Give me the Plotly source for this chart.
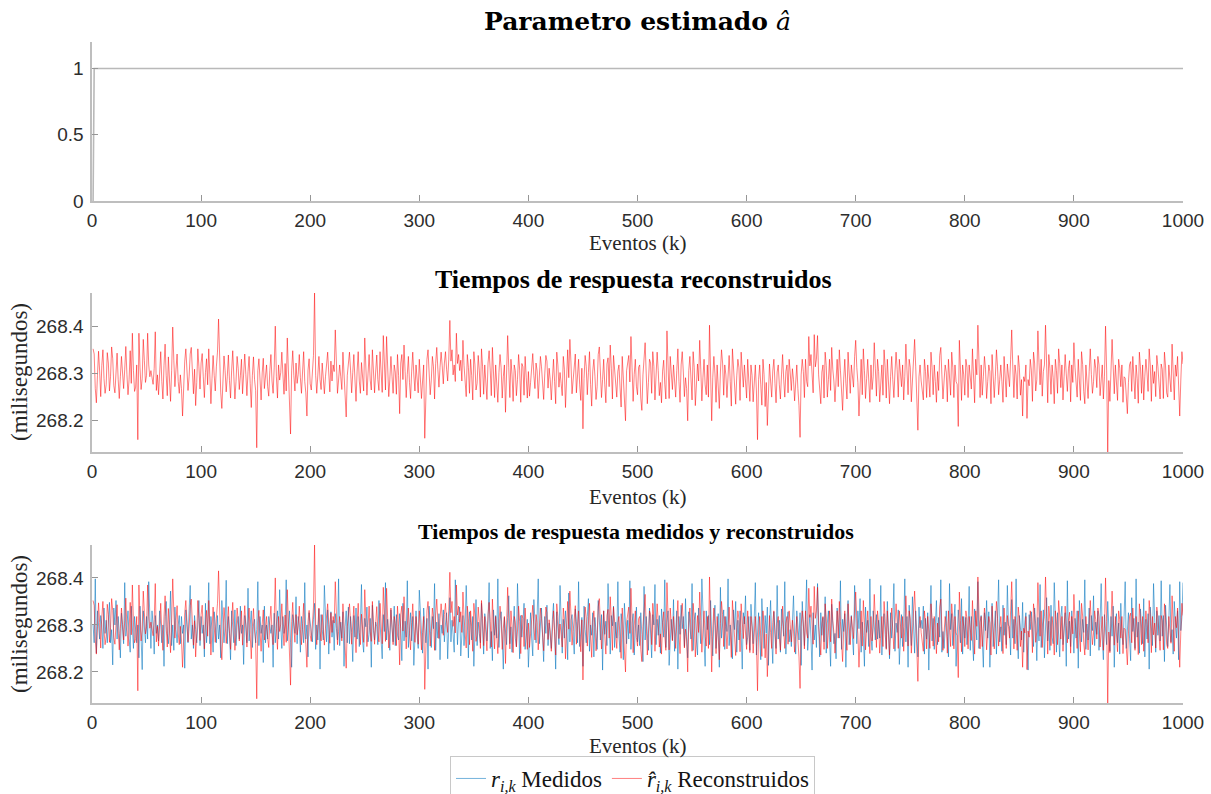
import plotly.graph_objects as go

# ---------------- data ----------------
# Top panel: estimated parameter a_hat (step from 0 to 1 at the first events)
eventos_a = [1, 2, 1000]
a_hat = [0, 1, 1]

# Response times, stored as thousandths of ms above 268.000 ms (k = 1..1000)
base_ms = 268.0

r_hat_milesimas = [  # reconstructed (red)
    352,341,268,238,296,347,305,251,317,350,289,258,276,344,322,263,294,356,331,274,
    259,314,343,287,247,293,336,301,268,309,357,298,255,287,348,279,385,306,262,271,
    318,160,385,312,266,289,372,327,281,296,385,318,293,306,289,277,311,388,264,297,
    255,308,346,283,246,317,362,296,253,335,284,241,306,398,327,272,309,341,283,258,
    297,268,210,284,326,352,309,264,293,341,355,286,257,309,232,281,352,314,267,322,
    342,293,249,302,331,276,352,297,236,289,338,296,263,314,345,415,297,259,226,308,
    337,306,261,293,339,285,248,307,348,294,246,283,336,311,266,295,330,257,303,341,
    298,253,304,336,279,228,296,335,287,264,143,306,331,277,244,301,332,268,297,318,
    272,252,306,340,284,258,312,400,293,248,318,286,302,345,297,256,321,263,375,304,
    261,172,307,348,296,263,322,279,298,340,291,258,303,346,283,259,210,307,331,278,
    265,303,338,470,296,258,313,336,287,266,322,297,257,293,332,345,301,261,326,284,
    318,304,392,297,258,286,318,293,266,345,297,271,208,296,330,345,307,259,302,340,
    288,241,305,346,284,258,323,296,263,375,304,254,299,340,286,265,350,297,259,303,
    339,287,264,346,307,260,380,297,265,378,302,251,288,336,294,258,318,303,256,340,
    296,215,322,340,287,360,304,249,298,336,281,247,305,345,297,263,318,294,259,330,
    292,247,284,318,163,277,330,350,311,255,286,336,314,246,321,355,309,271,313,345,
    316,278,322,346,309,284,330,412,326,350,297,318,283,385,321,340,306,328,284,370,
    317,279,251,340,313,258,330,296,244,346,318,265,279,338,307,250,352,314,256,318,
    287,245,322,348,307,253,355,314,249,318,284,239,302,340,312,248,293,318,218,297,
    380,313,249,330,297,241,318,306,253,287,340,307,239,321,314,254,336,292,248,304,
    252,281,318,342,296,268,322,305,247,289,336,314,271,245,299,338,326,269,311,287,
    244,305,330,283,236,345,318,271,302,279,253,336,309,228,312,350,291,372,324,257,
    286,320,341,259,294,330,276,243,311,183,289,338,315,255,302,346,277,231,305,330,
    294,245,272,340,356,307,249,287,330,276,238,320,333,272,360,311,246,338,302,268,
    250,305,318,271,229,336,289,258,200,306,330,338,282,378,313,241,298,330,273,255,
    313,318,248,222,297,340,365,299,236,281,330,322,258,346,315,244,291,345,306,253,
    281,238,305,328,277,246,390,312,247,336,292,266,318,271,250,306,352,283,239,318,
    346,303,251,291,268,200,306,336,289,244,346,313,232,277,320,284,370,309,242,292,
    330,276,255,318,250,402,318,200,291,336,299,239,318,281,226,303,350,322,254,318,
    297,249,314,338,283,231,352,305,258,235,295,330,312,243,345,308,271,318,283,248,
    330,287,241,318,296,240,271,318,263,160,287,318,276,233,330,298,230,281,190,264,
    320,284,250,305,330,279,238,303,318,276,246,297,340,288,250,304,318,259,330,301,
    264,310,287,242,279,318,268,232,165,297,330,304,249,330,283,272,378,316,340,291,
    259,382,314,330,380,297,254,236,303,318,248,345,317,250,287,330,264,355,309,284,
    240,294,330,272,350,307,249,222,288,330,279,246,345,311,258,318,283,271,336,370,
    313,281,210,287,330,255,352,306,247,289,330,284,239,318,266,293,365,311,252,330,
    304,240,287,318,254,350,313,248,330,283,236,294,336,287,249,303,345,308,250,330,
    287,272,318,244,294,362,307,255,330,313,240,277,318,372,314,258,180,293,318,284,
    267,244,330,304,249,318,287,250,345,313,255,318,283,239,304,264,338,355,297,246,
    284,318,303,240,330,289,254,345,313,249,318,283,277,188,370,309,243,318,297,254,
    330,313,249,318,283,267,352,304,238,330,297,402,314,249,318,254,293,336,309,247,
    283,318,304,236,340,297,249,293,350,314,255,287,318,283,239,336,304,250,320,297,
    272,330,392,314,249,318,297,246,338,313,254,287,210,293,283,318,205,287,274,330,
    307,241,345,322,263,287,390,323,276,330,252,304,318,402,296,238,340,311,256,318,
    291,236,330,306,258,352,321,270,318,244,293,340,299,262,310,327,240,318,281,365,
    313,274,250,330,296,243,346,319,262,236,318,289,247,304,352,298,258,283,330,311,
    270,336,318,253,287,318,246,293,400,307,134,285,241,330,372,316,257,318,279,243,
    330,311,272,318,239,293,290,258,215,281,318,325,262,336,301,246,318,289,237,345,
    314,258,318,244,294,330,301,262,352,318,241,318,279,304,251,338,314,265,246,320,
    309,247,345,316,259,250,318,288,261,362,311,244,318,294,336,270,210,286,346,320,
]

r_med_milesimas = [  # measured (blue)
    300,262,398,240,330,290,270,320,300,250,336,282,310,262,300,348,262,290,215,336,
    300,352,270,318,282,230,325,300,260,390,276,300,330,272,242,340,300,250,318,280,
    262,300,230,340,282,205,330,300,262,318,270,392,290,250,330,300,238,320,282,300,
    266,330,300,262,300,212,318,350,282,260,300,372,256,300,246,338,290,262,300,320,
    260,318,282,300,208,332,300,262,330,384,270,300,250,320,290,262,300,352,256,318,
    282,300,232,346,262,300,390,260,318,290,242,328,300,262,320,270,300,230,352,290,
    262,300,395,260,318,282,226,330,300,262,332,256,300,318,270,340,282,300,216,320,
    300,262,378,266,300,330,252,300,312,262,290,392,256,318,282,300,220,340,262,300,
    270,318,298,282,300,210,325,262,300,330,270,375,300,250,318,282,300,396,266,300,
    330,262,210,322,300,282,360,260,318,300,242,318,290,262,390,270,300,232,326,300,
    286,264,312,346,248,300,268,334,206,322,290,268,384,300,264,332,238,300,328,274,
    310,246,324,292,268,398,256,306,272,328,212,296,330,262,338,260,318,284,222,320,
    274,336,270,318,254,302,386,266,242,314,296,338,264,280,314,210,342,288,268,306,
    296,258,352,304,264,228,322,286,390,268,312,270,246,332,300,264,340,256,322,278,
    268,324,292,224,346,266,308,274,394,252,288,326,266,318,214,298,330,278,250,374,
    318,276,240,336,298,262,314,206,340,284,252,318,292,388,246,306,272,324,226,300,
    282,332,264,302,326,228,288,358,264,310,280,242,396,296,258,314,338,234,286,320,
    256,298,384,272,230,328,306,268,318,212,290,354,256,306,282,262,346,302,238,324,
    304,266,310,390,250,286,224,332,278,320,272,398,252,308,328,270,206,316,294,258,
    316,362,260,296,242,314,340,272,254,388,290,228,320,274,306,346,248,284,312,210,
    288,326,272,234,354,300,262,320,398,260,296,336,274,222,318,282,342,256,304,278,
    250,312,346,286,206,328,276,258,384,298,240,312,272,330,292,226,368,264,310,322,
    272,238,334,308,262,392,254,282,316,212,340,290,262,318,356,244,300,278,326,232,
    316,284,248,352,296,268,322,204,330,280,308,256,388,276,238,320,298,340,252,306,
    272,392,276,242,324,300,226,346,288,260,310,270,394,248,304,324,236,286,338,264,
    300,256,326,280,222,382,268,318,290,246,336,274,230,322,300,386,258,312,278,320,
    240,334,298,274,396,252,306,330,214,286,312,268,354,244,290,330,206,318,280,342,
    292,318,254,356,276,230,328,300,270,388,246,310,326,268,236,336,284,260,398,302,
    266,212,330,290,320,258,352,276,234,314,342,250,296,324,210,380,272,304,332,248,
    318,286,398,256,300,268,228,332,290,350,242,310,268,330,284,206,326,302,362,258,
    274,318,246,344,298,260,314,390,236,288,326,274,226,356,304,250,320,282,338,214,
    300,352,272,218,328,286,250,384,270,310,242,334,296,276,392,238,310,328,264,290,
    254,316,362,276,238,330,300,268,326,214,350,282,256,312,396,246,294,322,272,204,
    326,268,300,252,388,292,232,326,278,316,264,360,240,304,330,270,212,344,288,260,
    282,228,336,300,272,394,248,312,286,324,210,308,352,258,290,320,274,236,384,296,
    260,330,292,356,242,306,278,212,338,284,310,254,398,276,246,330,300,268,322,270,
    310,272,384,236,298,324,280,250,350,296,228,326,272,312,388,244,304,284,332,216,
    278,322,254,296,398,264,318,210,342,288,256,360,302,240,330,276,232,338,294,310,
    292,340,238,314,270,326,204,300,384,266,314,248,290,352,258,316,274,396,242,286,
    250,300,330,276,232,388,290,324,256,308,344,212,280,332,300,262,356,238,318,272,
    316,258,290,382,246,318,270,224,334,296,268,392,250,306,320,268,210,326,288,352,
    272,328,210,300,346,254,286,330,238,310,396,264,296,244,342,278,306,258,384,300,
    296,236,354,272,312,260,398,280,228,320,292,268,348,242,306,326,270,204,322,290,
    328,282,254,336,300,224,316,266,386,252,300,332,230,290,358,266,308,246,342,274,
    260,390,300,242,326,278,232,316,340,258,288,326,212,394,270,308,254,330,296,240,
    314,272,330,208,352,296,264,312,284,396,248,302,268,336,234,320,288,362,256,306,
    280,330,246,306,388,270,226,322,290,258,350,300,244,318,276,340,210,298,324,262,
    304,238,346,282,258,318,392,250,296,326,272,224,358,286,314,250,398,274,306,240,
    334,290,260,356,232,312,270,324,206,338,282,256,388,300,242,330,278,320,266,394,
    276,320,222,342,300,254,310,386,264,290,238,350,306,272,330,226,392,288,316,390,
]

x_ticks = [0, 100, 200, 300, 400, 500, 600, 700, 800, 900, 1000]
y1_ticks = [0, 0.5, 1]
y1_labels = ["0", "0.5", "1"]
y_ms_ticks = [268.2, 268.3, 268.4]
y_ms_labels = ["268.2", "268.3", "268.4"]

r_hat = [base_ms + v / 1000.0 for v in r_hat_milesimas]
r_med = [base_ms + v / 1000.0 for v in r_med_milesimas]
k_hat = list(range(1, len(r_hat) + 1))
k_med = list(range(1, len(r_med) + 1))

y_lo = min(r_hat + r_med)
y_hi = max(r_hat + r_med)

# ---------------- figure ----------------
W, H = 1211, 794


def px(x):
    return x / W


def py(y):
    return 1 - y / H


RED = "rgba(255,0,0,0.5)"
BLUE = "rgba(0,114,189,0.55)"
AXC = "rgb(190,190,190)"
TICKFONT = dict(family="Liberation Sans, Arial, sans-serif", size=19, color="rgb(45,45,45)")
SERIF = "Liberation Serif, Times New Roman, serif"

fig = go.Figure()
fig.add_trace(go.Scatter(x=eventos_a, y=a_hat, mode="lines",
                         line=dict(color="rgb(185,185,185)", width=1.6),
                         showlegend=False, xaxis="x", yaxis="y"))
fig.add_trace(go.Scatter(x=k_hat, y=r_hat, mode="lines",
                         line=dict(color=RED, width=1), showlegend=False,
                         xaxis="x2", yaxis="y2"))
fig.add_trace(go.Scatter(x=k_med, y=r_med, mode="lines",
                         line=dict(color=BLUE, width=1),
                         name="<i>r</i><sub><i>i,k</i></sub> Medidos",
                         xaxis="x3", yaxis="y3"))
fig.add_trace(go.Scatter(x=k_hat, y=r_hat, mode="lines",
                         line=dict(color=RED, width=1),
                         name="<i>r\u0302</i><sub><i>i,k</i></sub> Reconstruidos",
                         xaxis="x3", yaxis="y3"))

xdom = [px(92), px(1183)]
ydoms = [[py(201), py(42)], [py(452), py(293)], [py(703), py(545)]]

common_x = dict(range=[0, 1000], tickvals=x_ticks, ticktext=[str(t) for t in x_ticks],
                showline=True, linecolor=AXC, linewidth=1.6, ticks="inside",
                ticklen=6, tickwidth=1, tickcolor="rgb(150,150,150)", showgrid=False,
                zeroline=False, tickfont=TICKFONT, automargin=False,
                ticklabelstandoff=2, domain=xdom, fixedrange=True)
common_y = dict(showline=True, linecolor=AXC, linewidth=1.6, ticks="inside",
                ticklen=6, tickwidth=1, tickcolor="rgb(150,150,150)", showgrid=False,
                zeroline=False, tickfont=TICKFONT, automargin=False,
                ticklabelstandoff=3, fixedrange=True)

layout = dict(
    width=W, height=H,
    margin=dict(l=0, r=0, t=0, b=0, autoexpand=False),
    paper_bgcolor="white", plot_bgcolor="white",
    showlegend=True,
    legend=dict(orientation="h", x=px(632.5), xanchor="center", y=py(756), yanchor="top",
                font=dict(family=SERIF, size=23, color="rgb(20,20,20)"),
                bordercolor="rgb(200,200,200)", borderwidth=1, bgcolor="white",
                itemwidth=30, tracegroupgap=0),
)
layout["xaxis"] = dict(common_x, anchor="y")
layout["xaxis2"] = dict(common_x, anchor="y2")
layout["xaxis3"] = dict(common_x, anchor="y3")
layout["yaxis"] = dict(common_y, anchor="x", domain=ydoms[0], range=[0, 1.2],
                       tickvals=y1_ticks, ticktext=y1_labels)
layout["yaxis2"] = dict(common_y, anchor="x2", domain=ydoms[1], range=[y_lo, y_hi],
                        tickvals=y_ms_ticks, ticktext=y_ms_labels)
layout["yaxis3"] = dict(common_y, anchor="x3", domain=ydoms[2], range=[y_lo, y_hi],
                        tickvals=y_ms_ticks, ticktext=y_ms_labels)
fig.update_layout(layout)

ann = []
# titles
ann.append(dict(text="<b>Parametro estimado</b> <i>â</i>", x=px(637.5), y=py(21),
                font=dict(family="DejaVu Serif, serif", size=25, color="black")))
ann.append(dict(text="<b>Tiempos de respuesta reconstruidos</b>", x=px(634), y=py(279),
                font=dict(family=SERIF, size=26, color="black")))
ann.append(dict(text="<b>Tiempos de respuesta medidos y reconstruidos</b>", x=px(636), y=py(531),
                font=dict(family=SERIF, size=22, color="black")))
# x labels
for yy in (243, 497, 746):
    ann.append(dict(text="Eventos (k)", x=px(637.5), y=py(yy),
                    font=dict(family=SERIF, size=21, color="rgb(38,38,38)")))
# y labels
for yy in (372, 624):
    ann.append(dict(text="(milisegundos)", x=px(19), y=py(yy), textangle=-90,
                    font=dict(family=SERIF, size=23, color="rgb(38,38,38)")))
for a in ann:
    a.update(xref="paper", yref="paper", showarrow=False, xanchor="center", yanchor="middle")
fig.update_layout(annotations=ann)

# remove the default page margin so the 1211x794 figure fills the window exactly
fig.write_html(
    "out.html",
    config={"displayModeBar": False, "staticPlot": True},
    post_script=(
        "document.documentElement.style.margin='0px';"
        "document.body.style.margin='0px';document.body.style.padding='0px';"
        "document.documentElement.style.overflow='hidden';document.body.style.overflow='hidden';"
    ),
)
